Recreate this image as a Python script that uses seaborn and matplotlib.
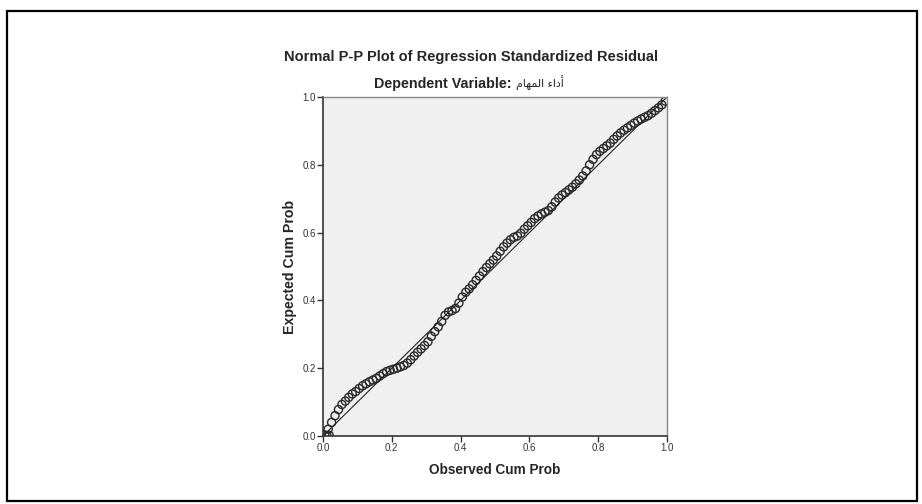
import numpy as np
import pandas as pd
import seaborn as sns
import matplotlib.pyplot as plt
from matplotlib.patches import Rectangle

# Observed vs expected cumulative probabilities
observed = [0.005, 0.012, 0.018, 0.015, 0.025, 0.035, 0.045, 0.055, 0.065, 0.075,
            0.085, 0.095, 0.105, 0.115, 0.125, 0.135, 0.145, 0.155, 0.165, 0.175,
            0.185, 0.195, 0.205, 0.215, 0.225, 0.235, 0.245, 0.255, 0.265, 0.275,
            0.285, 0.295, 0.305, 0.315, 0.325, 0.335, 0.345, 0.355, 0.365, 0.375,
            0.385, 0.395, 0.405, 0.415, 0.425, 0.435, 0.445, 0.455, 0.465, 0.475,
            0.485, 0.495, 0.505, 0.515, 0.525, 0.535, 0.545, 0.555, 0.565, 0.575,
            0.585, 0.595, 0.605, 0.615, 0.625, 0.635, 0.645, 0.655, 0.665, 0.675,
            0.685, 0.695, 0.705, 0.715, 0.725, 0.735, 0.745, 0.755, 0.765, 0.775,
            0.785, 0.795, 0.805, 0.815, 0.825, 0.835, 0.845, 0.855, 0.865, 0.875,
            0.885, 0.895, 0.905, 0.915, 0.925, 0.935, 0.945, 0.955, 0.965, 0.975,
            0.985, 0.995]
expected = [0.003, 0.000, 0.002, 0.020, 0.040, 0.060, 0.078, 0.093, 0.103, 0.114,
            0.124, 0.131, 0.140, 0.148, 0.154, 0.160, 0.165, 0.170, 0.177, 0.184,
            0.190, 0.194, 0.197, 0.200, 0.204, 0.208, 0.215, 0.225, 0.236, 0.247,
            0.257, 0.267, 0.278, 0.294, 0.308, 0.322, 0.338, 0.356, 0.366, 0.370,
            0.376, 0.392, 0.410, 0.424, 0.434, 0.446, 0.459, 0.472, 0.485, 0.497,
            0.508, 0.519, 0.531, 0.545, 0.558, 0.569, 0.579, 0.586, 0.590, 0.598,
            0.610, 0.620, 0.630, 0.641, 0.649, 0.655, 0.660, 0.665, 0.676, 0.690,
            0.702, 0.711, 0.718, 0.726, 0.734, 0.744, 0.755, 0.767, 0.782, 0.800,
            0.816, 0.830, 0.840, 0.848, 0.856, 0.864, 0.875, 0.885, 0.894, 0.902,
            0.909, 0.916, 0.923, 0.929, 0.935, 0.940, 0.945, 0.952, 0.960, 0.968,
            0.977, 0.988]
ref_x = [0.0, 1.0]
ref_y = [0.0, 1.0]
ticks = [0.0, 0.2, 0.4, 0.6, 0.8, 1.0]
tick_labels = ["0.0", "0.2", "0.4", "0.6", "0.8", "1.0"]

title = "Normal P-P Plot of Regression Standardized Residual"
subtitle = "Dependent Variable:"
# Arabic "أداء المهام" in presentation forms, visual order (matplotlib has no shaping)
dep_var = "\uFEE1\uFE8E\uFEEC\uFEE4\uFEDF\uFE8D \uFE80\uFE8D\uFEA9\uFE83"

df = pd.DataFrame({"observed": observed, "expected": expected})

sns.set_style("white")
plt.rcParams['font.family'] = ['Liberation Sans', 'DejaVu Sans']

fig = plt.figure(figsize=(9.22, 5.04), dpi=100)
ax = fig.add_axes([323 / 922, 68 / 504, 344 / 922, 339 / 504])
ax.set_facecolor("#F0F0F0")

sns.lineplot(x=ref_x, y=ref_y, ax=ax, color="#222222", linewidth=0.8)
sns.scatterplot(data=df, x="observed", y="expected", ax=ax, marker="o", s=34,
                facecolor="none", edgecolor="#2a2a2a", linewidth=1.0)

ax.set_xlim(0, 1)
ax.set_ylim(0, 1)
ax.set_xticks(ticks)
ax.set_xticklabels(tick_labels)
ax.set_yticks(ticks)
ax.set_yticklabels(tick_labels)
ax.tick_params(axis="both", direction="out", length=4, width=1, colors="#333333",
               labelsize=7, pad=1, left=True, bottom=True)
for side in ["left", "bottom"]:
    ax.spines[side].set_color("#333333")
    ax.spines[side].set_linewidth(1.2)
for side in ["top", "right"]:
    ax.spines[side].set_color("#888888")
    ax.spines[side].set_linewidth(1.0)

ax.set_xlabel("Observed Cum Prob", fontsize=9.8, fontweight="bold", labelpad=7)
ax.set_ylabel("Expected Cum Prob", fontsize=10.2, fontweight="bold", labelpad=4)

fig.text(471 / 922, 1 - 57 / 504, title, ha="center", va="center",
         fontsize=10.5, fontweight="bold")
fig.text(511 / 922, 1 - 84 / 504, subtitle, ha="right", va="center",
         fontsize=10.3, fontweight="bold")
fig.text(516 / 922, 1 - 83 / 504, dep_var, ha="left", va="center",
         fontsize=8, family=['DejaVu Sans'])

fig.patches.append(Rectangle((7 / 922, 3 / 504), 910 / 922, 490 / 504,
                             transform=fig.transFigure, fill=False,
                             edgecolor="black", linewidth=1.6))

fig.savefig("out.png", dpi=100, facecolor="white")
